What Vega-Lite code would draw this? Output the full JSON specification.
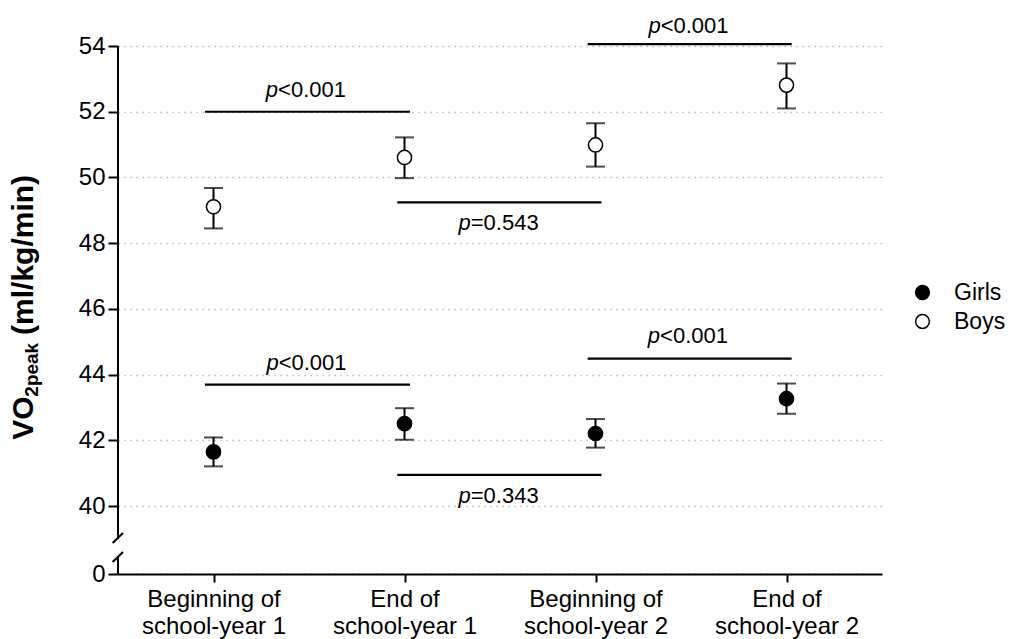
{
  "$schema": "https://vega.github.io/schema/vega-lite/v6.json",
  "autosize": {"type": "none"},
  "padding": {"left": 118, "top": 46, "right": 135, "bottom": 65},
  "width": 764,
  "height": 528,
  "background": "white",
  "config": {
    "view": {"stroke": null},
    "font": "Liberation Sans",
    "text": {"font": "Liberation Sans"},
    "legend": {"labelFont": "Liberation Sans"}
  },
  "datasets": {
    "points": [
      {"group": "Girls", "x": 1, "y": 41.65, "lo": 41.21, "hi": 42.09},
      {"group": "Girls", "x": 2, "y": 42.51, "lo": 42.02, "hi": 42.98},
      {"group": "Girls", "x": 3, "y": 42.21, "lo": 41.78, "hi": 42.65},
      {"group": "Girls", "x": 4, "y": 43.27, "lo": 42.81, "hi": 43.73},
      {"group": "Boys", "x": 1, "y": 49.11, "lo": 48.45, "hi": 49.68},
      {"group": "Boys", "x": 2, "y": 50.61, "lo": 49.98, "hi": 51.22},
      {"group": "Boys", "x": 3, "y": 50.99, "lo": 50.33, "hi": 51.65},
      {"group": "Boys", "x": 4, "y": 52.81, "lo": 52.10, "hi": 53.47}
    ],
    "sig": [
      {"x": 0.955, "x2": 2.029, "y": 52.0},
      {"x": 1.962, "x2": 3.031, "y": 49.24},
      {"x": 2.959, "x2": 4.027, "y": 54.06},
      {"x": 0.955, "x2": 2.029, "y": 43.70},
      {"x": 1.962, "x2": 3.031, "y": 40.95},
      {"x": 2.959, "x2": 4.027, "y": 44.49}
    ],
    "plabels": [
      {"x": 1.338, "y": 52.44, "rest": "<0.001"},
      {"x": 2.347, "y": 48.40, "rest": "=0.543"},
      {"x": 3.341, "y": 54.40, "rest": "<0.001"},
      {"x": 1.341, "y": 44.14, "rest": "<0.001"},
      {"x": 2.347, "y": 40.09, "rest": "=0.343"},
      {"x": 3.338, "y": 44.96, "rest": "<0.001"}
    ],
    "axisline": [
      {"x": 0.5, "y": 39, "y2": 54},
      {"x": 0.5, "y": 0, "y2": 19}
    ],
    "breaks": [
      {"x": 0.472, "x2": 0.526, "y": 34.5, "y2": 39.18},
      {"x": 0.472, "x2": 0.526, "y": 13.4, "y2": 24.5}
    ],
    "titlebig": [
      {"text": "VO", "x": 0.055, "y": 42.02},
      {"text": "(ml/kg/min)", "x": 0.055, "y": 45.21}
    ],
    "titlesub": [
      {"text": "2peak", "x": 0.081, "y": 43.33}
    ]
  },
  "layer": [
    {
      "data": {"name": "points"},
      "mark": {"type": "rule", "color": "black", "strokeWidth": 2},
      "encoding": {
        "x": {
          "field": "x", "type": "quantitative",
          "scale": {"domain": [0.5, 4.5], "nice": false, "zero": false},
          "axis": {
            "title": null, "grid": false, "values": [1, 2, 3, 4],
            "labelExpr": "datum.value == 1 ? ['Beginning of', 'school-year 1'] : datum.value == 2 ? ['End of', 'school-year 1'] : datum.value == 3 ? ['Beginning of', 'school-year 2'] : ['End of', 'school-year 2']",
            "domainColor": "black", "domainWidth": 2,
            "tickColor": "black", "tickWidth": 2, "tickSize": 8,
            "labelFont": "Liberation Sans", "labelFontSize": 24, "labelColor": "black",
            "labelLineHeight": 27, "labelPadding": 5, "labelBaseline": "top"
          }
        },
        "y": {
          "field": "lo", "type": "quantitative",
          "scale": {"domain": [0, 39, 54], "range": [528, 493, 0], "nice": false, "zero": false},
          "axis": {
            "title": null, "values": [0, 40, 42, 44, 46, 48, 50, 52, 54],
            "domain": false, "grid": true, "gridColor": "#bdbdbd", "gridDash": [1.5, 4.5], "gridWidth": 1.5,
            "tickColor": "black", "tickWidth": 2, "tickSize": 10,
            "labelFont": "Liberation Sans", "labelFontSize": 24, "labelColor": "black", "labelPadding": 3
          }
        },
        "y2": {"field": "hi"}
      }
    },
    {
      "data": {"name": "points"},
      "mark": {"type": "tick", "orient": "horizontal", "color": "black", "size": 19, "thickness": 2},
      "encoding": {
        "x": {"field": "x", "type": "quantitative"},
        "y": {"field": "lo", "type": "quantitative"}
      }
    },
    {
      "data": {"name": "points"},
      "mark": {"type": "tick", "orient": "horizontal", "color": "black", "size": 19, "thickness": 2},
      "encoding": {
        "x": {"field": "x", "type": "quantitative"},
        "y": {"field": "hi", "type": "quantitative"}
      }
    },
    {
      "data": {"name": "points"},
      "mark": {"type": "point", "shape": "circle", "filled": true, "size": 200, "stroke": "black", "strokeWidth": 1.5, "opacity": 1},
      "encoding": {
        "x": {"field": "x", "type": "quantitative"},
        "y": {"field": "y", "type": "quantitative"},
        "fill": {
          "field": "group", "type": "nominal",
          "scale": {"domain": ["Girls", "Boys"], "range": ["black", "white"]},
          "legend": {
            "title": null, "orient": "none", "legendX": 793, "legendY": 235,
            "symbolType": "circle", "symbolSize": 190, "symbolStrokeColor": "black", "symbolStrokeWidth": 1.5,
            "labelFontSize": 23, "labelColor": "black", "labelOffset": 20, "rowPadding": 5, "padding": 0
          }
        }
      }
    },
    {
      "data": {"name": "sig"},
      "mark": {"type": "rule", "color": "black", "strokeWidth": 2.2},
      "encoding": {
        "x": {"field": "x", "type": "quantitative"},
        "x2": {"field": "x2"},
        "y": {"field": "y", "type": "quantitative"}
      }
    },
    {
      "data": {"name": "plabels"},
      "mark": {"type": "text", "text": "p", "fontStyle": "italic", "fontSize": 22, "align": "right", "baseline": "alphabetic", "color": "black"},
      "encoding": {
        "x": {"field": "x", "type": "quantitative"},
        "y": {"field": "y", "type": "quantitative"}
      }
    },
    {
      "data": {"name": "plabels"},
      "mark": {"type": "text", "fontSize": 22, "align": "left", "baseline": "alphabetic", "color": "black"},
      "encoding": {
        "x": {"field": "x", "type": "quantitative"},
        "y": {"field": "y", "type": "quantitative"},
        "text": {"field": "rest"}
      }
    },
    {
      "data": {"name": "axisline"},
      "mark": {"type": "rule", "color": "black", "strokeWidth": 2},
      "encoding": {
        "x": {"field": "x", "type": "quantitative"},
        "y": {"field": "y", "type": "quantitative"},
        "y2": {"field": "y2"}
      }
    },
    {
      "data": {"name": "breaks"},
      "mark": {"type": "rule", "color": "black", "strokeWidth": 2},
      "encoding": {
        "x": {"field": "x", "type": "quantitative"},
        "x2": {"field": "x2"},
        "y": {"field": "y", "type": "quantitative"},
        "y2": {"field": "y2"}
      }
    },
    {
      "data": {"name": "titlebig"},
      "mark": {"type": "text", "angle": 270, "fontSize": 30, "fontWeight": "bold", "align": "left", "baseline": "alphabetic", "color": "black"},
      "encoding": {
        "x": {"field": "x", "type": "quantitative"},
        "y": {"field": "y", "type": "quantitative"},
        "text": {"field": "text"}
      }
    },
    {
      "data": {"name": "titlesub"},
      "mark": {"type": "text", "angle": 270, "fontSize": 19, "fontWeight": "bold", "align": "left", "baseline": "alphabetic", "color": "black"},
      "encoding": {
        "x": {"field": "x", "type": "quantitative"},
        "y": {"field": "y", "type": "quantitative"},
        "text": {"field": "text"}
      }
    }
  ]
}
